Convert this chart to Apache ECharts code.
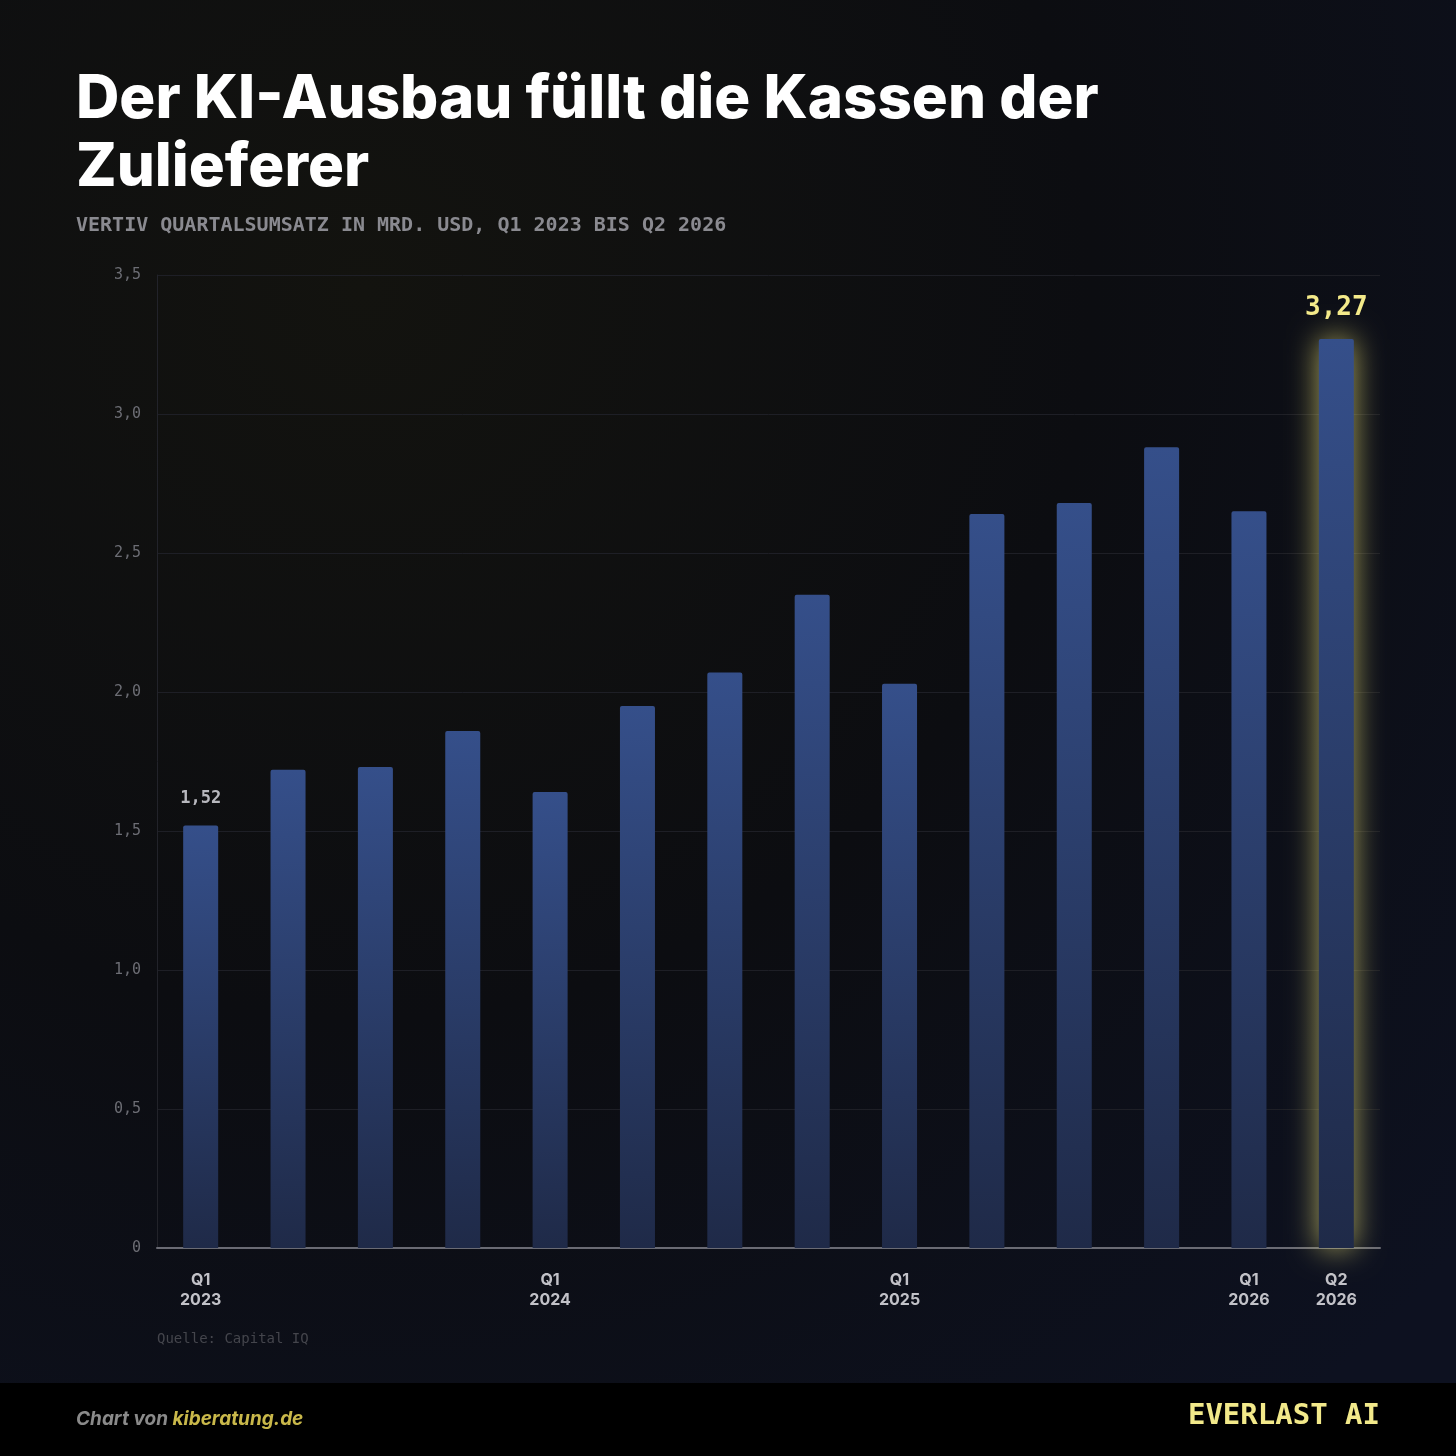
<!DOCTYPE html>
<html>
<head>
<meta charset="utf-8">
<script src="https://cdn.jsdelivr.net/npm/echarts@6/dist/echarts.min.js"></script>
<style>
html,body{margin:0;padding:0;background:#0b0c10;}
#main{width:1456px;height:1456px;}
</style>
</head>
<body>
<div id="main"></div>
<script>
// Vertiv Quartalsumsatz, Mrd. USD
var quarters = ['Q1 2023','Q2 2023','Q3 2023','Q4 2023','Q1 2024','Q2 2024','Q3 2024','Q4 2024','Q1 2025','Q2 2025','Q3 2025','Q4 2025','Q1 2026','Q2 2026'];
var revenue = [1.52,1.72,1.73,1.86,1.64,1.95,2.07,2.35,2.03,2.64,2.68,2.88,2.65,3.27];
var shownLabels = ['Q1 2023','Q1 2024','Q1 2025','Q1 2026','Q2 2026'];
var yTicks = [0,0.5,1,1.5,2,2.5,3,3.5];

var chart = echarts.init(document.getElementById('main'));

var barData = [];
for (var i = 0; i < revenue.length; i++) {
	var item = {value: revenue[i]};
	if (i == revenue.length - 1) {
		item.itemStyle = {
			shadowColor: 'rgba(240,230,120,0.7)',
			shadowBlur: 30
		};
		item.label = {show: true, color: '#f4ea8a', fontSize: 26, fontWeight: 'bold', fontFamily: 'DejaVu Sans Mono', distance: 18};
	} else if (i == 0) {
		item.label = {show: true, color: '#b8b8be', fontSize: 17, fontWeight: 'bold', fontFamily: 'DejaVu Sans Mono', distance: 18};
	}
	barData.push(item);
}

var option = {
	backgroundColor: {
		type: 'radial', x: 0.25, y: 0.2, r: 1,
		colorStops: [{offset: 0, color: '#13130f'}, {offset: 0.5, color: '#0c0d11'}, {offset: 1, color: '#0d1120'}]
	},
	textStyle: {fontFamily: 'Inter'},
	graphic: [
		{type: 'text', left: 76, top: 66, style: {text: 'Der KI-Ausbau füllt die Kassen der\nZulieferer', fill: '#ffffff', font: '800 60px Inter', lineHeight: 68}},
		{type: 'text', left: 76, top: 216, style: {text: 'VERTIV QUARTALSUMSATZ IN MRD. USD, Q1 2023 BIS Q2 2026', fill: '#8a8a90', font: 'bold 20px "DejaVu Sans Mono"'}},
		{type: 'text', left: 157, top: 1332, style: {text: 'Quelle: Capital IQ', fill: '#44454c', font: '14px "DejaVu Sans Mono"'}},
		{type: 'rect', left: 0, top: 1383, shape: {width: 1456, height: 73}, style: {fill: '#000000'}},
		{type: 'text', left: 76, top: 1410, style: {text: '{a|Chart von }{b|kiberatung.de}', rich: {
			a: {fill: '#8a8a8a', font: 'italic bold 19px Inter'},
			b: {fill: '#c9b84a', font: 'italic bold 19px Inter'}}}},
		{type: 'text', right: 76, top: 1402, style: {text: 'EVERLAST AI', fill: '#f2e98a', font: 'bold 29px "DejaVu Sans Mono"'}}
	],
	grid: {left: 157, right: 76, top: 275, bottom: 208},
	xAxis: {
		type: 'category',
		data: quarters,
		axisLine: {lineStyle: {color: '#6a6b74', width: 2}},
		axisTick: {show: false},
		axisLabel: {
			interval: 0, margin: 22, color: '#c2c2c8', fontSize: 16, fontWeight: 'bold', lineHeight: 20,
			formatter: function (v) {
				return shownLabels.indexOf(v) >= 0 ? v.replace(' ', '\n') : '';
			}
		}
	},
	yAxis: {
		type: 'value', min: 0, max: 3.5, interval: 0.5,
		axisLine: {show: true, lineStyle: {color: '#22232a'}},
		splitLine: {lineStyle: {color: '#1e1f26'}},
		axisLabel: {
			color: '#6c6d74', fontSize: 15, fontFamily: 'DejaVu Sans Mono', margin: 16,
			formatter: function (v) { return yTicks.indexOf(v) >= 0 ? (v == 0 ? '0' : v.toFixed(1).replace('.', ',')) : ''; }
		}
	},
	series: [{
		type: 'bar',
		barWidth: 35,
		data: barData,
		itemStyle: {
			borderRadius: [2, 2, 0, 0],
			color: {type: 'linear', x: 0, y: 0, x2: 0, y2: 1,
				colorStops: [{offset: 0, color: '#354f8a'}, {offset: 1, color: '#1f2a48'}]}
		},
		label: {
			show: false, position: 'top',
			formatter: function (p) { return p.value.toFixed(2).replace('.', ','); }
		}
	}]
};
chart.setOption(option);
</script>
</body>
</html>
